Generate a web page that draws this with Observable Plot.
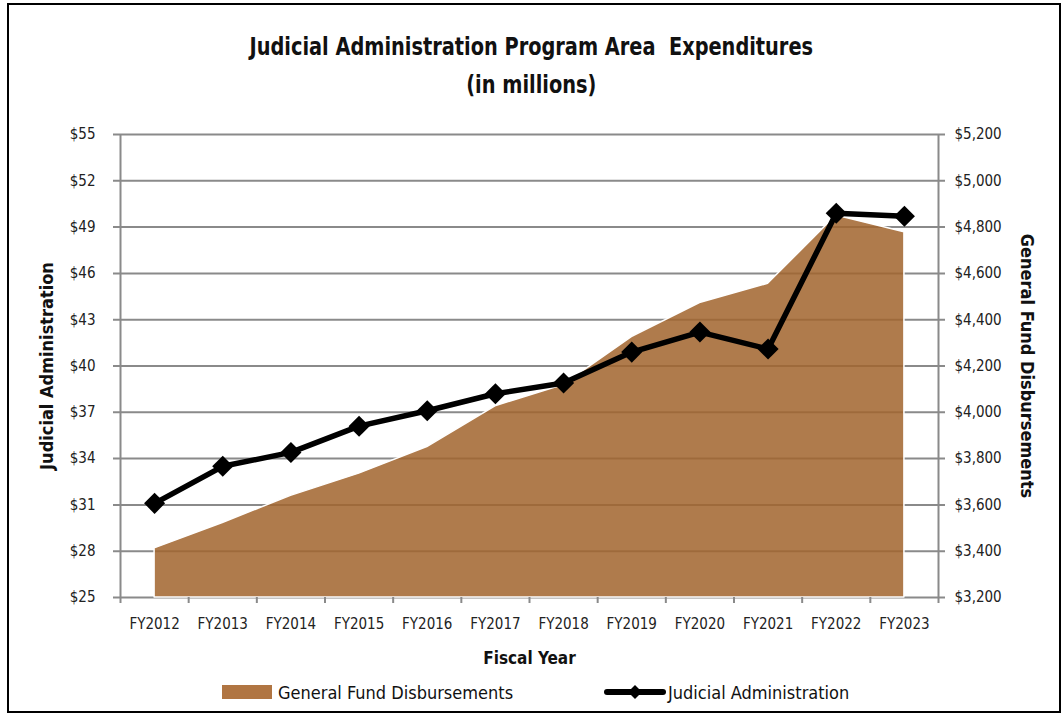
<!DOCTYPE html>
<html>
<head>
<meta charset="utf-8">
<script src="https://cdn.jsdelivr.net/npm/d3@7"></script>
<script src="https://cdn.jsdelivr.net/npm/@observablehq/plot@0.6"></script>
<style>
  body { margin: 0; background: #fff; }
  #page { position: relative; width: 1064px; height: 715px; overflow: hidden;
          font-family: "Liberation Sans Narrow", "DejaVu Sans Condensed", "Arial Narrow", sans-serif; color: #111; }
  #frame { position: absolute; left: 7px; top: 3px; width: 1050px; height: 706px; border: 2px solid #000; }
  #title { position: absolute; left: 0; top: 28px; width: 1064px; text-align: center;
           font-weight: bold; font-size: 25px; line-height: 38px; transform: scaleX(0.86); transform-origin: 527px 0; }
  #chart { position: absolute; left: 0; top: 110px; }
  #chart svg { font-family: "Liberation Sans Narrow", "DejaVu Sans Condensed", "Arial Narrow", sans-serif; overflow: visible; }
  .leg { position: absolute; top: 680px; height: 24px; display: flex; align-items: center; font-size: 18px; }
</style>
</head>
<body>
<div id="page">
  <div id="frame"></div>
  <div id="title">Judicial Administration Program Area&nbsp; Expenditures<br>(in millions)</div>
  <div id="chart"></div>
  <div class="leg" style="left:222px;">
    <span style="display:inline-block;width:50px;height:14px;background:#b07542;margin-right:6px;"></span>
    <span>General Fund Disbursements</span>
  </div>
  <div class="leg" style="left:604px;">
    <svg width="62" height="20" style="margin-right:2px;">
      <line x1="3" y1="10" x2="59" y2="10" stroke="#000" stroke-width="6" stroke-linecap="round"></line>
      <path d="M31,3 L38,10 L31,17 L24,10 Z" fill="#000"></path>
    </svg>
    <span>Judicial Administration</span>
  </div>
</div>
<script>
// ---- data ----
const years = ["FY2012","FY2013","FY2014","FY2015","FY2016","FY2017","FY2018","FY2019","FY2020","FY2021","FY2022","FY2023"];
const judicialAdmin = [31.1, 33.5, 34.4, 36.1, 37.1, 38.2, 38.9, 40.9, 42.2, 41.1, 49.9, 49.7];
const generalFund   = [3412, 3522, 3639, 3735, 3850, 4026, 4118, 4325, 4472, 4555, 4850, 4778];
const leftTicks  = [25, 28, 31, 34, 37, 40, 43, 46, 49, 52, 55];
const rightTicks = [3200, 3400, 3600, 3800, 4000, 4200, 4400, 4600, 4800, 5000, 5200];

// map right-axis values onto the left-axis scale
const L0 = 25, L1 = 55, R0 = 3200, R1 = 5200;
const toLeft = v => L0 + (v - R0) * (L1 - L0) / (R1 - R0);

const rows = years.map((y, i) => ({ i, year: y, ja: judicialAdmin[i], gf: generalFund[i], gfL: toLeft(generalFund[i]) }));
const grid = "#8a8a8a";
const fmt = d3.format(",");

const chart = Plot.plot({
  width: 1064,
  height: 560,
  marginLeft: 120,
  marginRight: 126,
  marginTop: 24,
  marginBottom: 73,
  x: { type: "linear", domain: [-0.5, years.length - 0.5], axis: null },
  y: { domain: [L0, L1], axis: null },
  style: { fontSize: "15px", color: "#222", overflow: "visible" },
  marks: [
    // gridlines with outward ticks
    Plot.ruleY(leftTicks, { stroke: grid, strokeWidth: 2, insetLeft: -7, insetRight: -7 }),
    // area (right axis)
    Plot.areaY(rows, { x: "i", y1: L0, y2: "gfL", fill: "#a2652f", fillOpacity: 0.86, stroke: "white", strokeWidth: 1.5 }),
    // axis lines
    Plot.ruleX([-0.5, years.length - 0.5], { stroke: grid, strokeWidth: 2 }),
    // x boundary ticks
    Plot.axisX({ ticks: d3.range(-0.5, years.length, 1), tickSize: 6, tickFormat: () => "", stroke: grid, strokeWidth: 2, label: null }),
    // x labels
    Plot.axisX({ ticks: d3.range(years.length), tickSize: 0, tickPadding: 21, tickFormat: i => years[i], fontSize: 15, label: null }),
    // left labels
    Plot.axisY({ anchor: "left", ticks: leftTicks, tickSize: 0, tickPadding: 25, tickFormat: d => "$" + d, fontSize: 15, label: null }),
    // right labels
    Plot.axisY({ anchor: "right", ticks: leftTicks, tickSize: 0, tickPadding: 16,
                 tickFormat: d => "$" + fmt(Math.round(R0 + (d - L0) * (R1 - R0) / (L1 - L0))), fontSize: 15, label: null }),
    // judicial administration line
    Plot.line(rows, { x: "i", y: "ja", stroke: "#000", strokeWidth: 5.5 }),
    Plot.dot(rows, { x: "i", y: "ja", symbol: "diamond2", r: 9.5, fill: "#000", stroke: "none" }),
    // axis titles
    Plot.text(["Fiscal Year"], { frameAnchor: "bottom", dy: 66, fontWeight: "bold", fontSize: 17, fill: "#111", textAnchor: "middle" }),
    Plot.text(["Judicial Administration"], { frameAnchor: "left", dx: -73, rotate: -90, fontWeight: "bold", fontSize: 18, fill: "#111", textAnchor: "middle" }),
    Plot.text(["General Fund Disbursements"], { frameAnchor: "right", dx: 88, rotate: 90, fontWeight: "bold", fontSize: 18, fill: "#111", textAnchor: "middle" })
  ]
});
document.getElementById("chart").appendChild(chart);
</script>
</body>
</html>
